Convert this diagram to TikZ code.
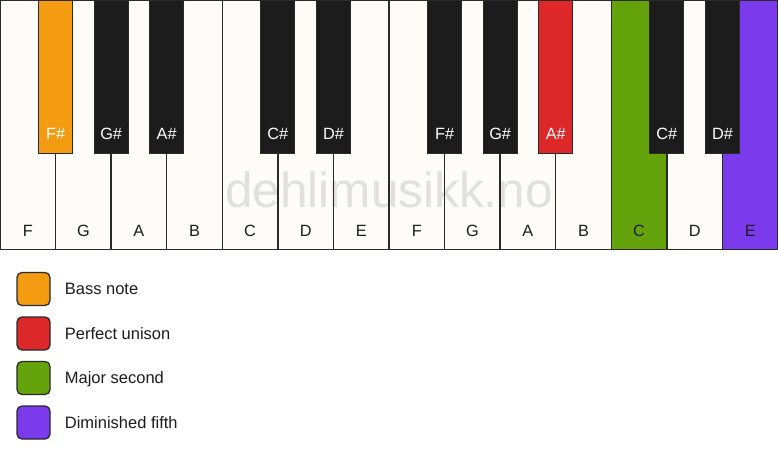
\documentclass[tikz,border=0pt]{standalone}
\usepackage{fontspec}
\setmainfont{Liberation Sans}
\usetikzlibrary{positioning}

\definecolor{keywhite}{HTML}{FDFCF8}
\definecolor{keyblack}{HTML}{1C1C1C}
\definecolor{keyedge}{HTML}{2A2A2A}
\definecolor{bass}{HTML}{F39C12}
\definecolor{unison}{HTML}{DC2828}
\definecolor{second}{HTML}{65A30D}
\definecolor{fifth}{HTML}{7C3AED}
\newcommand\kw{55.571}

\begin{document}
\begin{tikzpicture}[x=1pt,y=-1pt,
    keyline/.style={draw=keyedge, line width=1.4pt},
    wlabel/.style={font=\fontsize{16.3}{19}\selectfont, anchor=base, inner sep=0pt, text=keyblack},
    blabel/.style={wlabel, text=white},
    swatch/.style={draw=keyedge, line width=1.3pt, rounded corners=5pt, minimum size=33pt, inner sep=0pt},
    legtext/.style={font=\fontsize{16.5}{19}\selectfont, inner sep=0pt, text height=11.8pt, text depth=0pt, text=keyblack}]
    % Fix the size of the page
    \useasboundingbox (0,0) rectangle (778,461);
    \fill[white] (0,0) rectangle (778,461);

    % Draw white keys
    \foreach \n/\c [count=\i from 0] in {F/keywhite,G/keywhite,A/keywhite,B/keywhite,C/keywhite,D/keywhite,E/keywhite,F/keywhite,G/keywhite,A/keywhite,B/keywhite,C/second,D/keywhite,E/fifth} {
        \fill[\c] (\i*\kw,0.5) rectangle ({(\i+1)*\kw},249.5);
        \node[wlabel] (w\i) at ({(\i+0.5)*\kw},236.5) {\n};
    }

    % Add watermark
    \node[font=\fontsize{49.5}{58}\selectfont, text=black!12, anchor=base, inner sep=0pt] (mark) at (389,207) {dehlimusikk.no};

    % Outline white keys
    \foreach \i in {0,...,13}
        \draw[keyline] (\i*\kw,0.5) rectangle ({(\i+1)*\kw},249.5);

    % Draw black keys
    \foreach \b/\c/\n in {1/bass/F\#,2/keyblack/G\#,3/keyblack/A\#,5/keyblack/C\#,6/keyblack/D\#,8/keyblack/F\#,9/keyblack/G\#,10/unison/A\#,12/keyblack/C\#,13/keyblack/D\#} {
        \filldraw[fill=\c, draw=keyedge, line width=1pt] ({\b*\kw-17},0.5) rectangle ({\b*\kw+17},153);
        \node[blabel] (b\b) at (\b*\kw,139) {\n};
    }

    % Add legend
    \node[swatch, fill=bass] (sw1) at (33.5,289) {};
    \node[swatch, fill=unison] (sw2) at (33.5,333.5) {};
    \node[swatch, fill=second] (sw3) at (33.5,378) {};
    \node[swatch, fill=fifth] (sw4) at (33.5,422.5) {};
    \node[legtext, right=14pt of sw1] (lg1) {Bass note};
    \node[legtext, right=14pt of sw2] (lg2) {Perfect unison};
    \node[legtext, right=14pt of sw3] (lg3) {Major second};
    \node[legtext, right=14pt of sw4] (lg4) {Diminished fifth};
\end{tikzpicture}
\end{document}
